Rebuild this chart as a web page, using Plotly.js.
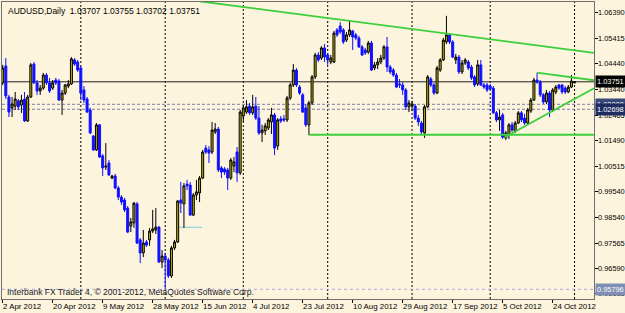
<!DOCTYPE html>
<html><head><meta charset="utf-8">
<script src="https://cdn.plot.ly/plotly-3.0.1.min.js"></script>
<style>html,body{margin:0;padding:0;background:#FDF4DE;}#chart{width:625px;height:313px;}</style>
</head><body><div id="chart"></div>
<script>
// AUDUSD Daily, one bar per trading day (incl. Sunday bars), 2 Apr 2012 .. 1 Nov 2012
const openP = [1.0371,1.0436,1.0317,1.0275,1.0282,1.0302,1.0286,1.0309,1.0225,1.0317,
1.0443,1.0371,1.0340,1.0351,1.0401,1.0371,1.0351,1.0382,1.0378,1.0305,
1.0332,1.0359,1.0367,1.0459,1.0451,1.0428,1.0344,1.0309,1.0267,1.0167,
1.0114,1.0210,1.0091,1.0048,1.0064,1.0006,1.0014,0.9968,0.9933,0.9922,
0.9891,0.9822,0.9834,0.9907,0.9769,0.9719,0.9761,0.9769,0.9803,0.9807,
0.9818,0.9684,0.9707,0.9692,0.9631,0.9738,0.9761,0.9922,0.9907,0.9983,
0.9979,0.9864,0.9941,0.9949,1.0006,1.0121,1.0114,1.0106,1.0183,1.0194,
1.0045,1.0041,1.0037,1.0006,1.0052,1.0106,1.0026,1.0244,1.0259,1.0282,
1.0256,1.0282,1.0236,1.0179,1.0187,1.0198,1.0221,1.0248,1.0129,1.0233,
1.0233,1.0229,1.0313,1.0363,1.0420,1.0355,1.0325,1.0275,1.0210,1.0294,
1.0394,1.0478,1.0466,1.0505,1.0478,1.0451,1.0451,1.0574,1.0589,1.0574,
1.0535,1.0555,1.0570,1.0555,1.0543,1.0509,1.0497,1.0489,1.0524,1.0428,
1.0440,1.0451,1.0466,1.0509,1.0432,1.0420,1.0401,1.0367,1.0363,1.0344,
1.0279,1.0282,1.0282,1.0236,1.0217,1.0179,1.0279,1.0386,1.0363,1.0332,
1.0420,1.0459,1.0528,1.0555,1.0528,1.0459,1.0470,1.0413,1.0447,1.0451,
1.0432,1.0394,1.0367,1.0440,1.0363,1.0363,1.0359,1.0351,1.0256,1.0229,
1.0248,1.0160,1.0171,1.0210,1.0187,1.0217,1.0256,1.0236,1.0217,1.0263,
1.0305,1.0382,1.0374,1.0325,1.0298,1.0332,1.0267,1.0336,1.0363,1.0363,
1.0351,1.0336,1.0355,1.03707];
const highP = [1.0440,1.0466,1.0325,1.0317,1.0336,1.0309,1.0325,1.0336,1.0325,1.0447,
1.0451,1.0382,1.0363,1.0409,1.0409,1.0390,1.0382,1.0390,1.0386,1.0344,
1.0367,1.0382,1.0470,1.0466,1.0459,1.0436,1.0359,1.0317,1.0275,1.0171,
1.0217,1.0213,1.0098,1.0140,1.0075,1.0018,1.0022,0.9976,0.9941,0.9930,
0.9899,0.9853,0.9914,0.9914,0.9776,0.9807,0.9769,0.9815,0.9884,0.9891,
0.9822,0.9730,0.9719,0.9700,0.9746,0.9769,0.9922,0.9991,0.9987,0.9999,
0.9991,0.9949,0.9999,1.0014,1.0114,1.0133,1.0129,1.0221,1.0217,1.0202,
1.0052,1.0048,1.0045,1.0083,1.0087,1.0125,1.0267,1.0286,1.0305,1.0294,
1.0325,1.0317,1.0282,1.0210,1.0217,1.0236,1.0275,1.0256,1.0236,1.0244,
1.0248,1.0321,1.0371,1.0443,1.0428,1.0363,1.0332,1.0290,1.0302,1.0401,
1.0486,1.0489,1.0512,1.0520,1.0486,1.0478,1.0570,1.0581,1.0604,1.0581,
1.0566,1.0612,1.0574,1.0562,1.0551,1.0516,1.0505,1.0532,1.0532,1.0451,
1.0466,1.0478,1.0516,1.0547,1.0440,1.0428,1.0409,1.0386,1.0374,1.0351,
1.0305,1.0302,1.0290,1.0248,1.0225,1.0286,1.0401,1.0394,1.0371,1.0436,
1.0466,1.0543,1.0628,1.0562,1.0535,1.0482,1.0478,1.0459,1.0466,1.0459,
1.0440,1.0401,1.0459,1.0459,1.0371,1.0371,1.0367,1.0359,1.0263,1.0267,
1.0256,1.0187,1.0217,1.0221,1.0225,1.0263,1.0263,1.0252,1.0275,1.0313,
1.0390,1.0409,1.0382,1.0332,1.0344,1.0340,1.0351,1.0363,1.0367,1.0367,
1.0359,1.0363,1.0401,1.03755];
const lowP = [1.0363,1.0309,1.0240,1.0240,1.0267,1.0267,1.0256,1.0221,1.0221,1.0313,
1.0367,1.0325,1.0325,1.0344,1.0363,1.0332,1.0344,1.0363,1.0302,1.0248,
1.0325,1.0351,1.0363,1.0436,1.0413,1.0305,1.0294,1.0256,1.0175,1.0110,
1.0110,1.0083,1.0014,1.0037,1.0014,1.0002,0.9964,0.9922,0.9903,0.9876,
0.9795,0.9799,0.9815,0.9753,0.9680,0.9703,0.9742,0.9746,0.9795,0.9792,
0.9680,0.9661,0.95796,0.9623,0.9623,0.9730,0.9757,0.9872,0.9815,0.9960,
0.9861,0.9861,0.9922,0.9914,1.0002,1.0098,1.0064,1.0098,1.0175,1.0029,
1.0006,1.0018,0.9960,0.9999,1.0029,0.9991,1.0018,1.0221,1.0252,1.0248,
1.0248,1.0229,1.0171,1.0144,1.0171,1.0190,1.0175,1.0094,1.0114,1.0217,
1.0221,1.0221,1.0305,1.0355,1.0355,1.0325,1.0256,1.0202,1.0171,1.0286,
1.0386,1.0451,1.0459,1.0451,1.0440,1.0443,1.0447,1.0547,1.0559,1.0520,
1.0528,1.0547,1.0497,1.0535,1.0505,1.0474,1.0478,1.0482,1.0417,1.0420,
1.0424,1.0443,1.0459,1.0413,1.0405,1.0394,1.0351,1.0351,1.0325,1.0267,
1.0259,1.0263,1.0229,1.0206,1.0175,1.0160,1.0275,1.0355,1.0325,1.0328,
1.0413,1.0455,1.0520,1.0520,1.0466,1.0443,1.0405,1.0405,1.0440,1.0420,
1.0382,1.0355,1.0359,1.0359,1.0348,1.0336,1.0344,1.0252,1.0221,1.0187,
1.0156,1.0152,1.0156,1.0183,1.0179,1.0213,1.0221,1.0210,1.0210,1.0256,
1.0302,1.0367,1.0317,1.0290,1.0290,1.0240,1.0259,1.0328,1.0344,1.0328,
1.0328,1.0332,1.0351,1.03702];
const closeP = [1.0428,1.0321,1.0259,1.0290,1.0309,1.0279,1.0305,1.0225,1.0317,1.0440,
1.0371,1.0340,1.0351,1.0401,1.0371,1.0340,1.0371,1.0371,1.0305,1.0332,
1.0363,1.0367,1.0463,1.0443,1.0420,1.0332,1.0305,1.0259,1.0179,1.0114,
1.0210,1.0087,1.0045,1.0052,1.0018,1.0014,0.9968,0.9933,0.9914,0.9884,
0.9799,0.9838,0.9910,0.9757,0.9719,0.9757,0.9749,0.9803,0.9811,0.9818,
0.9684,0.9707,0.9692,0.9631,0.9738,0.9761,0.9918,0.9910,0.9976,0.9976,
0.9864,0.9941,0.9953,1.0006,1.0106,1.0106,1.0102,1.0190,1.0194,1.0037,
1.0029,1.0029,1.0006,1.0075,1.0068,1.0026,1.0259,1.0275,1.0279,1.0256,
1.0279,1.0236,1.0179,1.0190,1.0206,1.0229,1.0248,1.0121,1.0229,1.0225,
1.0229,1.0313,1.0363,1.0420,1.0363,1.0332,1.0259,1.0210,1.0294,1.0394,
1.0478,1.0459,1.0505,1.0470,1.0459,1.0466,1.0562,1.0555,1.0566,1.0528,
1.0555,1.0574,1.0547,1.0543,1.0509,1.0478,1.0486,1.0524,1.0420,1.0440,
1.0451,1.0466,1.0509,1.0432,1.0413,1.0401,1.0355,1.0363,1.0344,1.0279,
1.0294,1.0290,1.0236,1.0221,1.0183,1.0279,1.0394,1.0363,1.0332,1.0428,
1.0459,1.0535,1.0555,1.0528,1.0470,1.0470,1.0413,1.0447,1.0459,1.0428,
1.0390,1.0363,1.0440,1.0363,1.0355,1.0344,1.0348,1.0256,1.0229,1.0240,
1.0163,1.0179,1.0210,1.0190,1.0217,1.0256,1.0229,1.0217,1.0267,1.0305,
1.0382,1.0374,1.0325,1.0298,1.0332,1.0267,1.0344,1.0355,1.0351,1.0336,
1.0336,1.0355,1.0378,1.03751];

// x-axis labels every 16 bars, month-start bars for the vertical grid
const dateLabels = ["2 Apr 2012","20 Apr 2012","9 May 2012","28 May 2012","15 Jun 2012","4 Jul 2012",
"23 Jul 2012","10 Aug 2012","29 Aug 2012","17 Sep 2012","5 Oct 2012","24 Oct 2012"];
const labelStep = 16;
const monthStartBars = [25, 52, 77, 104, 131, 156, 183];

// price axis labels
const priceTicks = [1.06390,1.05415,1.04440,1.03440,1.02465,1.01490,1.00515,0.99540,0.98540,0.97565,0.96590,0.95615];

// chart objects
const bidPrice = 1.03751;
const levelA = 1.02888, levelB = 1.02698, lowLevel = 0.95796;
const upperTrendX = [63, 189.2], upperTrendY = [1.0684, 1.0486];
const flatTrendX = [98, 189.2], flatTrendY = [1.0172, 1.0172];
const shortTrendX = [170.9, 189.2], shortTrendY = [1.0410, 1.0381];
const riseTrendX = [160.7, 189.2], riseTrendY = [1.0163, 1.0350];
const cyanX = [56, 63.8], cyanY = [0.9817, 0.9817];

const xs = openP.map((_, i) => i);
const labelBars = dateLabels.map((_, i) => i * labelStep);
const FONT = "Liberation Sans Narrow, Liberation Sans, Arial, sans-serif";

const trace = {
  type: 'candlestick', x: xs, open: openP, high: highP, low: lowP, close: closeP,
  increasing: {line: {color: '#000000', width: 1}, fillcolor: '#BDB000'},
  decreasing: {line: {color: '#1010FF', width: 1}, fillcolor: '#1010FF'},
  whiskerwidth: 0, hoverinfo: 'skip', showlegend: false
};

const shapes = [];
monthStartBars.forEach(b => shapes.push({type:'line', xref:'x', yref:'paper', x0:b, x1:b, y0:0, y1:1,
  line:{color:'#000000', width:1, dash:'2px,2px'}, layer:'below'}));
shapes.push({type:'line', xref:'paper', yref:'y', x0:0, x1:1, y0:levelA, y1:levelA, line:{color:'#7C7CA8', width:1, dash:'3px,2px'}, layer:'below'});
shapes.push({type:'line', xref:'paper', yref:'y', x0:0, x1:1, y0:levelB, y1:levelB, line:{color:'#7C7CA8', width:1, dash:'3px,2px'}, layer:'below'});
shapes.push({type:'line', xref:'paper', yref:'y', x0:0, x1:1, y0:lowLevel, y1:lowLevel, line:{color:'#A8A8E0', width:1, dash:'3px,3px'}, layer:'below'});
shapes.push({type:'line', xref:'paper', yref:'y', x0:0, x1:1, y0:bidPrice, y1:bidPrice, line:{color:'#202020', width:1}, layer:'below'});
shapes.push({type:'line', xref:'x', yref:'y', x0:cyanX[0], x1:cyanX[1], y0:cyanY[0], y1:cyanY[1], line:{color:'#9FD8D8', width:1.5}, layer:'below'});
[[upperTrendX,upperTrendY],[flatTrendX,flatTrendY],[shortTrendX,shortTrendY],[riseTrendX,riseTrendY]].forEach(([tx,ty]) =>
  shapes.push({type:'line', xref:'x', yref:'y', x0:tx[0], x1:tx[1], y0:ty[0], y1:ty[1], line:{color:'#3CCF3C', width:1.8}, layer:'above'}));

const annotations = [];
// price axis tick labels
priceTicks.forEach(v => annotations.push({xref:'paper', yref:'y', x:1, y:v, xanchor:'left', yanchor:'middle', xshift:2,
  showarrow:false, text:v.toFixed(5), font:{family:FONT, size:7.4, color:'#000000'}}));
// time axis tick labels (left-aligned at the tick, as in MT4)
labelBars.forEach((b, i) => annotations.push({xref:'x', yref:'paper', x:b, y:0, xanchor:'left', yanchor:'top', xshift:-2, yshift:-1,
  showarrow:false, text:dateLabels[i], font:{family:FONT, size:7.9, color:'#000000'}}));
annotations.push({xref:'paper', yref:'paper', x:0, y:1, xanchor:'left', yanchor:'top', xshift:4, yshift:-2, showarrow:false,
   text:'AUDUSD,Daily  1.03707 1.03755 1.03702 1.03751', font:{family:FONT, size:8.5, color:'#000000'}});
annotations.push({xref:'paper', yref:'paper', x:0, y:0, xanchor:'left', yanchor:'bottom', xshift:3, yshift:0, showarrow:false,
   text:'Interbank FX Trader 4, \u00a9 2001-2012, MetaQuotes Software Corp.', font:{family:FONT, size:8.5, color:'#202020'}});
function priceBox(v, bg) {
  return {xref:'paper', yref:'y', x:1, y:v, xanchor:'left', yanchor:'middle', xshift:1, showarrow:false,
    text: v.toFixed(5), font:{family:FONT, size:7.4, color:'#FFFFFF'}, bgcolor:bg, borderpad:1};
}
annotations.push(priceBox(levelA, '#3A4878'));
annotations.push(priceBox(levelB, '#1E2C62'));
annotations.push(priceBox(lowLevel, '#8090B4'));
annotations.push(priceBox(bidPrice, '#000000'));

const layout = {
  width: 625, height: 313,
  margin: {l:2, r:31, t:2, b:14, pad:0},
  paper_bgcolor: '#FDF4DE', plot_bgcolor: '#FDF4DE',
  showlegend: false, dragmode: false, boxgap: 0.1,
  font: {family: FONT, size: 8.5, color: '#000000'},
  xaxis: {
    range: [-0.22, 189.22], rangeslider: {visible: false},
    tickmode: 'array', tickvals: labelBars, showticklabels: false,
    ticks: 'outside', ticklen: 3, tickcolor: '#000000',
    showgrid: false, zeroline: false, showline: true, mirror: true, linecolor: '#707070', linewidth: 1,
    fixedrange: true
  },
  yaxis: {
    side: 'right', range: [0.95423, 1.06811],
    tickmode: 'array', tickvals: priceTicks, showticklabels: false,
    ticks: 'outside', ticklen: 3, tickcolor: '#000000',
    showgrid: false, zeroline: false, showline: true, mirror: true, linecolor: '#707070', linewidth: 1,
    fixedrange: true
  },
  shapes: shapes, annotations: annotations
};

Plotly.newPlot('chart', [trace], layout, {displayModeBar: false, staticPlot: true});
</script></body></html>
